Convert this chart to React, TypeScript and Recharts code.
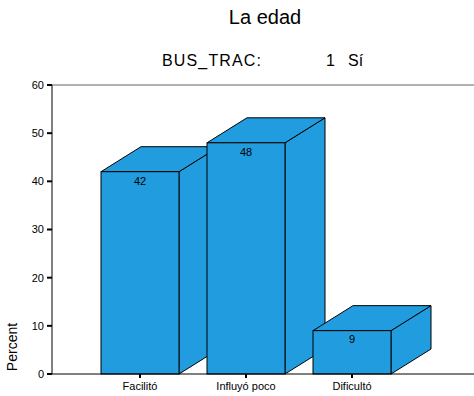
import { BarChart, Bar, XAxis, YAxis, ReferenceLine, LabelList } from "recharts";

const categories = ["Facilitó", "Influyó poco", "Dificultó"];
const percents = [42, 48, 9];
const yTicks = [0, 10, 20, 30, 40, 50, 60];

const title = "La edad";
const splitVar = "BUS_TRAC:";
const splitCode = "1";
const splitLabel = "Sí";

const FONT = "Arial, 'Liberation Sans', sans-serif";
const BLUE = "#219CDE";
// depth of the fake 3D box
const DX = 40;
const DY = 25;

const data = categories.map((name, i) => ({ name, pct: percents[i] }));

function Box3D(props: any) {
  const { x, y, width: w, height: h } = props;
  if (h == null || w == null) return null;
  const side = `${x + w},${y} ${x + w + DX},${y - DY} ${x + w + DX},${y + h - DY} ${x + w},${y + h}`;
  const top = `${x},${y} ${x + DX},${y - DY} ${x + w + DX},${y - DY} ${x + w},${y}`;
  return (
    <g>
      <polygon points={side} fill={BLUE} stroke="#000" strokeWidth={1} strokeLinejoin="round" />
      <polygon points={top} fill={BLUE} stroke="#000" strokeWidth={1} strokeLinejoin="round" />
      <rect x={x} y={y} width={w} height={h} fill={BLUE} stroke="#000" strokeWidth={1} />
    </g>
  );
}

export default function App() {
  return (
    <div style={{ position: "absolute", left: 0, top: 0, width: 474, height: 396, background: "#fff" }}>
      <BarChart
        width={474}
        height={396}
        data={data}
        margin={{ top: 85, right: 0, bottom: 0, left: 0 }}
        barSize={78}
      >
        <text x={265} y={24} textAnchor="middle" fontSize={20} fontFamily={FONT} fill="#000">
          {title}
        </text>
        <text x={162} y={66} fontSize={16} fontFamily={FONT} fill="#000" textLength={99} lengthAdjust="spacing">
          {splitVar}
        </text>
        <text x={326} y={66} fontSize={16} fontFamily={FONT} fill="#000">
          {splitCode}
        </text>
        <text x={348} y={66} fontSize={16} fontFamily={FONT} fill="#000">
          {splitLabel}
        </text>
        <text
          x={0}
          y={0}
          transform="translate(17, 347) rotate(-90)"
          textAnchor="middle"
          fontSize={14}
          fontFamily={FONT}
          fill="#000"
        >
          Percent
        </text>
        <XAxis
          dataKey="name"
          height={22}
          padding={{ left: 35, right: 69 }}
          axisLine={{ stroke: "#000", strokeWidth: 1 }}
          tickLine={{ stroke: "#000", strokeWidth: 2 }}
          tickSize={4}
          tickMargin={4}
          tick={{ fontSize: 11, fontFamily: FONT, fill: "#000" }}
          interval={0}
        />
        <YAxis
          width={52}
          domain={[0, 60]}
          ticks={yTicks}
          axisLine={{ stroke: "#000", strokeWidth: 1 }}
          tickLine={{ stroke: "#000", strokeWidth: 2 }}
          tickSize={5}
          tickMargin={3}
          tick={{ fontSize: 11, fontFamily: FONT, fill: "#000" }}
        />
        <ReferenceLine y={60} stroke="#666" strokeWidth={1} />
        <Bar dataKey="pct" shape={<Box3D />} isAnimationActive={false}>
          <LabelList
            dataKey="pct"
            position="insideTop"
            offset={5}
            fontSize={11}
            fontFamily={FONT}
            fill="#000"
          />
        </Bar>
      </BarChart>
    </div>
  );
}
